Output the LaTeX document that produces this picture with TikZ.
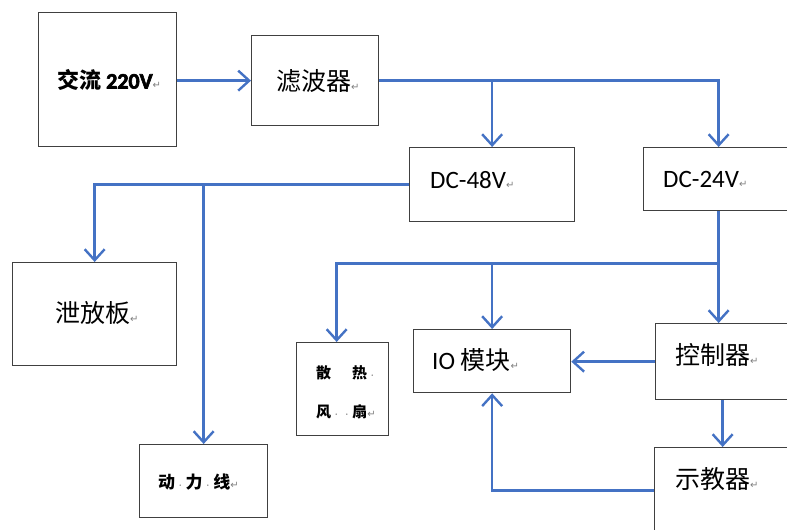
\documentclass[tikz,border=0pt]{standalone}
\usepackage{fontspec}
\setmainfont{Carlito}
\newfontfamily\cjk{Noto Sans CJK SC}
\newfontfamily\heavy{Carlito}[FakeBold=3]
\newfontfamily\symfont{DejaVu Sans}
\usetikzlibrary{arrows.meta}
\definecolor{lineblue}{RGB}{68,114,196}
\definecolor{boxgray}{RGB}{64,64,64}
\newcommand{\pmark}{{\mdseries\symfont\fontsize{10}{10}\selectfont\color{gray}↵}}
\newcommand{\sdot}{{\mdseries\fontsize{10}{10}\selectfont\color{gray}\hspace{4pt}·\hspace{4pt}}}

\begin{document}
\begin{tikzpicture}[x=1pt,y=-1pt,
    box/.style={draw=boxgray, line width=1.3pt, fill=white, anchor=north west, inner sep=0pt},
    wire/.style={lineblue, line width=2.6pt},
    arr/.style={wire, -{Straight Barb[length=11pt,width=20pt,line width=2.4pt]}},
    txt/.style={inner sep=0pt, anchor=west, font=\fontsize{25}{28}\selectfont},
    small/.style={inner sep=0pt, anchor=west, font=\bfseries\fontsize{17}{20}\selectfont}]
    \useasboundingbox (0,0) rectangle (787,530);
    % boxes
    \node[box, minimum width=138pt, minimum height=134pt] (ac) at (38,12) {};
    \node[box, minimum width=127pt, minimum height=90pt] (filter) at (251,35) {};
    \node[box, minimum width=165pt, minimum height=74pt] (dc48) at (409,147) {};
    \node[box, minimum width=150pt, minimum height=63pt] (dc24) at (643,147) {};
    \node[box, minimum width=164pt, minimum height=103pt] (drain) at (12,262) {};
    \node[box, minimum width=128pt, minimum height=73pt] (power) at (139,444) {};
    \node[box, minimum width=92pt, minimum height=93pt] (fan) at (296,342) {};
    \node[box, minimum width=157pt, minimum height=63pt] (io) at (413,329) {};
    \node[box, minimum width=134pt, minimum height=76pt] (ctrl) at (655,323) {};
    \node[box, minimum width=136pt, minimum height=86pt] (teach) at (654,447) {};
    % texts
    \node[txt, font=\bfseries\fontsize{22}{25}\selectfont] (ac-t) at (57,80) {{\cjk 交流} {\heavy 220V}\pmark};
    \node[txt] (filter-t) at (276,81) {{\cjk 滤波器}\pmark};
    \node[txt] (dc48-t) at (430,180) {DC-48V\pmark};
    \node[txt] (dc24-t) at (663,179) {DC-24V\pmark};
    \node[txt] (drain-t) at (55,313) {{\cjk 泄放板}\pmark};
    \node[small] (power-t) at (158,482) {{\cjk 动}\sdot{\cjk 力}\sdot{\cjk 线}\pmark};
    \node[small, font=\bfseries\fontsize{15}{18}\selectfont] (fan-t1) at (316,373) {{\cjk 散}\hspace{21pt}{\cjk 热}\sdot};
    \node[small, font=\bfseries\fontsize{15}{18}\selectfont] (fan-t2) at (316,412) {{\cjk 风}\sdot\sdot{\cjk 扇}\pmark};
    \node[txt] (io-t) at (432,360) {IO {\cjk 模块}\pmark};
    \node[txt] (ctrl-t) at (675,355) {{\cjk 控制器}\pmark};
    \node[txt] (teach-t) at (675,479) {{\cjk 示教器}\pmark};
    % connectors
    \coordinate (tap) at ([yshift=-52pt]dc24.south);
    \draw[arr] (ac.east |- filter.west) -- (filter.west);
    \draw[arr] (filter.east) -| (dc24.north);
    \draw[arr] (filter.east -| dc48.north) -- (dc48.north);
    \draw[arr] (dc48.west) -| (drain.north);
    \draw[arr] (dc48.west -| power.north) -- (power.north);
    \draw[arr] (dc24.south) -- (dc24.south |- ctrl.north);
    \draw[arr] (tap) -| ([xshift=-6pt]fan.north);
    \draw[arr] (tap -| io.north) -- (io.north);
    \draw[arr] (ctrl.west) -- (ctrl.west -| io.east);
    \draw[arr] (ctrl.south) -- (teach.north);
    \draw[arr] (teach.west) -| (io.south);
\end{tikzpicture}
\end{document}
